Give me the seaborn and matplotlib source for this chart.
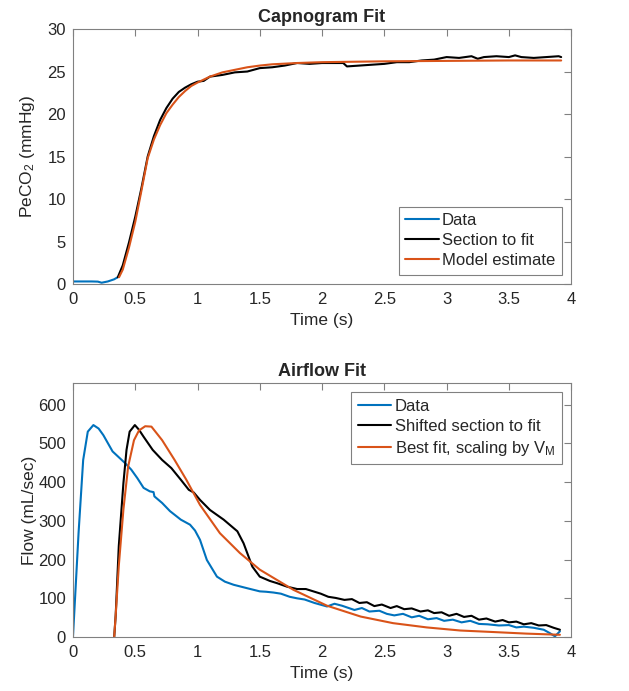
import numpy as np
import pandas as pd
import seaborn as sns
import matplotlib.pyplot as plt

# Capnogram (top panel)
cap_data_t = [0.0, 0.05, 0.1, 0.15, 0.2, 0.23, 0.28, 0.33, 0.36]
cap_data_v = [0.3, 0.3, 0.3, 0.3, 0.28, 0.15, 0.3, 0.55, 0.8]

cap_sec_t = [0.36, 0.4, 0.45, 0.5, 0.55, 0.6, 0.65, 0.7, 0.75, 0.8, 0.85, 0.9,
             0.95, 1.0, 1.05, 1.1, 1.15, 1.2, 1.3, 1.4, 1.5, 1.6, 1.7, 1.8,
             1.9, 2.0, 2.1, 2.17, 2.2, 2.3, 2.4, 2.5, 2.6, 2.7, 2.8, 2.9,
             3.0, 3.1, 3.2, 3.25, 3.3, 3.4, 3.5, 3.55, 3.6, 3.7, 3.8, 3.9, 3.92]
cap_sec_v = [0.8, 2.2, 4.9, 7.9, 11.3, 15.0, 17.4, 19.3, 20.7, 21.8, 22.6, 23.1,
             23.5, 23.8, 23.9, 24.4, 24.5, 24.6, 24.9, 25.0, 25.4, 25.5, 25.7, 26.0,
             25.9, 26.0, 26.0, 26.0, 25.6, 25.7, 25.8, 25.9, 26.1, 26.1, 26.3, 26.4,
             26.7, 26.6, 26.8, 26.5, 26.7, 26.8, 26.7, 26.9, 26.7, 26.6, 26.7, 26.8, 26.7]

cap_fit_t = [0.37, 0.4, 0.45, 0.5, 0.55, 0.6, 0.65, 0.7, 0.75, 0.8, 0.85, 0.9,
             0.95, 1.0, 1.1, 1.2, 1.3, 1.4, 1.5, 1.6, 1.8, 2.0, 2.5, 3.0, 3.5, 3.92]
cap_fit_v = [0.8, 1.7, 4.3, 7.3, 11.0, 14.8, 17.0, 18.7, 20.1, 21.1, 22.0, 22.7,
             23.3, 23.7, 24.4, 24.9, 25.2, 25.5, 25.7, 25.85, 26.0, 26.1, 26.2,
             26.25, 26.3, 26.3]

# Airflow (bottom panel)
flow_data_t = [0.0, 0.045, 0.082, 0.119, 0.164, 0.206, 0.244, 0.318, 0.418, 0.468,
               0.517, 0.567, 0.617, 0.647, 0.654, 0.716, 0.779, 0.866, 0.94, 0.98,
               1.02, 1.075, 1.156, 1.22, 1.29, 1.4, 1.5, 1.55, 1.61, 1.67, 1.74,
               1.8, 1.86, 1.94, 2.04, 2.1, 2.16, 2.26, 2.32, 2.38, 2.46, 2.52,
               2.58, 2.65, 2.72, 2.78, 2.85, 2.92, 2.98, 3.05, 3.12, 3.19, 3.26,
               3.33, 3.42, 3.5, 3.56, 3.62, 3.7, 3.78, 3.83, 3.87, 3.91]
flow_data_v = [0, 269, 457, 530, 547, 538, 521, 479, 449, 432,
               410, 385, 376, 374, 363, 346, 325, 303, 290, 275,
               251, 199, 156, 143, 135, 126, 118, 117, 115, 112, 104,
               100, 97, 88, 79, 86, 81, 70, 75, 66, 68, 60,
               56, 60, 51, 55, 46, 49, 42, 45, 38, 42, 34,
               33, 30, 31, 25, 27, 24, 19, 10, 2, 15]

flow_sec_t = [0.331, 0.343, 0.368, 0.405, 0.43, 0.455, 0.497, 0.53, 0.567, 0.64,
              0.716, 0.79, 0.866, 0.93, 0.97, 1.02, 1.1, 1.21, 1.32, 1.37,
              1.44, 1.5, 1.58, 1.64, 1.72, 1.8, 1.87, 1.93, 1.99, 2.05, 2.11,
              2.18, 2.24, 2.3, 2.36, 2.42, 2.48, 2.55, 2.6, 2.66, 2.72, 2.79,
              2.85, 2.9, 2.96, 3.02, 3.08, 3.14, 3.2, 3.26, 3.32, 3.39, 3.45,
              3.5, 3.56, 3.62, 3.68, 3.74, 3.8, 3.86, 3.91]
flow_sec_v = [0, 56, 235, 397, 483, 530, 547, 535, 517, 483,
              457, 436, 406, 380, 373, 354, 328, 303, 273, 242,
              182, 156, 145, 139, 130, 124, 124, 118, 112, 104, 101,
              96, 98, 88, 90, 80, 84, 75, 80, 72, 74, 66,
              69, 62, 64, 55, 60, 52, 55, 45, 48, 40, 44,
              38, 40, 33, 36, 30, 31, 24, 19]

flow_fit_t = [0.331, 0.343, 0.368, 0.405, 0.443, 0.49, 0.53, 0.58, 0.63, 0.716,
              0.816, 0.91, 1.02, 1.18, 1.34, 1.5, 1.77, 2.04, 2.31, 2.57,
              2.84, 3.11, 3.38, 3.64, 3.91]
flow_fit_v = [0, 56, 184, 329, 440, 508, 533, 544, 543, 508,
              457, 406, 341, 268, 217, 174, 122, 81, 53, 36,
              25, 17, 13, 9, 6]

blue = '#0072BD'
orange = '#D95319'
grey = '#808080'

sns.set_style("white")
plt.rcParams['font.family'] = ['Liberation Sans', 'DejaVu Sans']
plt.rcParams['mathtext.fontset'] = 'custom'
plt.rcParams['mathtext.rm'] = 'Liberation Sans'
plt.rcParams['mathtext.it'] = 'Liberation Sans'

fig = plt.figure(figsize=(6.29, 6.91), dpi=100)
ax1 = fig.add_axes([0.116, 0.589, 0.792, 0.369])
ax2 = fig.add_axes([0.116, 0.078, 0.792, 0.368])


def draw(ax, t, v, color, label):
    df = pd.DataFrame({'t': t, 'v': v})
    sns.lineplot(data=df, x='t', y='v', ax=ax, color=color, label=label,
                 linewidth=1.5, estimator=None, sort=False)


draw(ax1, cap_data_t, cap_data_v, blue, 'Data')
draw(ax1, cap_sec_t, cap_sec_v, 'black', 'Section to fit')
draw(ax1, cap_fit_t, cap_fit_v, orange, 'Model estimate')

draw(ax2, flow_data_t, flow_data_v, blue, 'Data')
draw(ax2, flow_sec_t, flow_sec_v, 'black', 'Shifted section to fit')
draw(ax2, flow_fit_t, flow_fit_v, orange, 'Best fit, scaling by V$_\\mathrm{M}$')

ax1.set_xlim(0, 4)
ax1.set_ylim(0, 30)
ax1.set_yticks(np.arange(0, 31, 5))
ax1.set_title('Capnogram Fit', fontsize=13, fontweight='bold', pad=5)
ax1.set_ylabel('PeCO$_2$ (mmHg)', fontsize=12.5)

ax2.set_xlim(0, 4)
ax2.set_ylim(0, 656)
ax2.set_yticks(np.arange(0, 601, 100))
ax2.set_title('Airflow Fit', fontsize=13, fontweight='bold', pad=5)
ax2.set_ylabel('Flow (mL/sec)', fontsize=12.5)

for ax in (ax1, ax2):
    ax.set_xticks([0, 0.5, 1, 1.5, 2, 2.5, 3, 3.5, 4])
    ax.set_xticklabels(['0', '0.5', '1', '1.5', '2', '2.5', '3', '3.5', '4'])
    ax.set_xlabel('Time (s)', fontsize=12.5, labelpad=4)
    ax.yaxis.set_label_coords(-0.072, 0.5)
    ax.tick_params(direction='in', length=5, width=0.8, color=grey,
                   top=True, right=True, labelsize=12, labelcolor='#262626')
    ax.tick_params(axis='x', pad=6)
    ax.tick_params(axis='y', pad=5)
    for s in ax.spines.values():
        s.set_color(grey)
        s.set_linewidth(0.8)
        s.set_visible(True)

leg1 = ax1.legend(loc='lower right', fontsize=12, frameon=True, fancybox=False,
                  edgecolor=grey, framealpha=1, handlelength=2.0, handletextpad=0.2,
                  borderaxespad=0.55, labelspacing=0.3, borderpad=0.4)
leg2 = ax2.legend(loc='upper right', fontsize=12, frameon=True, fancybox=False,
                  edgecolor=grey, framealpha=1, handlelength=2.0, handletextpad=0.2,
                  borderaxespad=0.55, labelspacing=0.3, borderpad=0.4)
for leg in (leg1, leg2):
    leg.get_frame().set_linewidth(0.8)

fig.savefig('out.png', dpi=100)
